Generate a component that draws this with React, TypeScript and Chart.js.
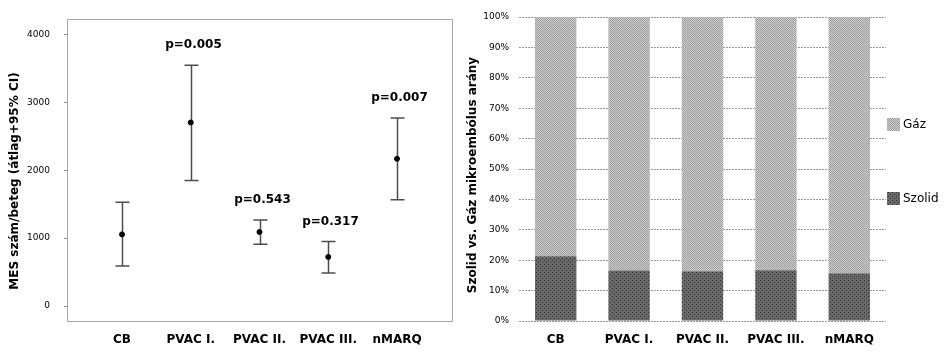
import React, { useEffect, useRef } from 'react';
import { Chart, registerables } from 'chart.js';
Chart.register(...registerables);

const categories = ['CB', 'PVAC I.', 'PVAC II.', 'PVAC III.', 'nMARQ'];
const mesMean = [1055, 2702, 1090, 723, 2168];
const mesLower = [588, 1850, 910, 487, 1566];
const mesUpper = [1527, 3546, 1267, 949, 2770];
const pLabels = ['', 'p=0.005', 'p=0.543', 'p=0.317', 'p=0.007'];
const mesTicks = [0, 1000, 2000, 3000, 4000];
const szolidPct = [21.3, 16.6, 16.4, 16.7, 15.7];
const gazPct = [78.7, 83.4, 83.6, 83.3, 84.3];
const pctTicks = [0, 10, 20, 30, 40, 50, 60, 70, 80, 90, 100];
const leftTitle = 'MES szám/beteg (átlag+95% CI)';
const rightTitle = 'Szolid vs. Gáz mikroembólus arány';

const FONT = '"DejaVu Sans", Verdana, sans-serif';

function makePattern(size: number, base: string, dot: string, dots: number[][]) {
  const c = document.createElement('canvas');
  c.width = size;
  c.height = size;
  const g = c.getContext('2d')!;
  g.fillStyle = base;
  g.fillRect(0, 0, size, size);
  g.fillStyle = dot;
  dots.forEach(([x, y]) => g.fillRect(x, y, 1, 1));
  return g.createPattern(c, 'repeat')!;
}

function vTitle(text: string, x: number, y: number) {
  return {
    id: 'vTitle',
    afterDraw(chart: any) {
      const ctx = chart.ctx;
      ctx.save();
      ctx.translate(x, y);
      ctx.rotate(-Math.PI / 2);
      ctx.font = `bold 12px ${FONT}`;
      ctx.fillStyle = '#000';
      ctx.textAlign = 'center';
      ctx.textBaseline = 'middle';
      ctx.fillText(text, 0, 0);
      ctx.restore();
    },
  };
}

export default function App() {
  const leftRef = useRef<HTMLCanvasElement>(null);
  const rightRef = useRef<HTMLCanvasElement>(null);

  useEffect(() => {
    const frame = {
      id: 'frame',
      beforeDatasetsDraw(chart: any) {
        const { ctx, chartArea: a } = chart;
        ctx.save();
        ctx.strokeStyle = '#a6a6a6';
        ctx.lineWidth = 1;
        ctx.strokeRect(Math.round(a.left) + 0.5, Math.round(a.top) + 0.5, Math.round(a.right - a.left), Math.round(a.bottom - a.top));
        ctx.restore();
      },
    };
    const errorBars = {
      id: 'errorBars',
      beforeDatasetsDraw(chart: any) {
        const { ctx, scales } = chart;
        const xs = scales.x;
        const ys = scales.y;
        ctx.save();
        ctx.strokeStyle = '#4d4d4d';
        ctx.lineWidth = 1.5;
        categories.forEach((_, i) => {
          const px = Math.round(xs.getPixelForValue(i)) + 0.5;
          const yu = ys.getPixelForValue(mesUpper[i]);
          const yl = ys.getPixelForValue(mesLower[i]);
          ctx.beginPath();
          ctx.moveTo(px, yu);
          ctx.lineTo(px, yl);
          ctx.moveTo(px - 7, yu);
          ctx.lineTo(px + 7, yu);
          ctx.moveTo(px - 7, yl);
          ctx.lineTo(px + 7, yl);
          ctx.stroke();
          if (pLabels[i]) {
            ctx.font = `bold 12px ${FONT}`;
            ctx.fillStyle = '#000';
            ctx.textAlign = 'center';
            ctx.textBaseline = 'middle';
            ctx.fillText(pLabels[i], px + 2, yu - 20);
          }
        });
        ctx.restore();
      },
    };

    const left = new Chart(leftRef.current!, {
      type: 'scatter',
      data: {
        datasets: [
          {
            label: 'MES',
            data: mesMean.map((m, i) => ({ x: i, y: m })),
            pointRadius: 2.5,
            pointHoverRadius: 2.5,
            backgroundColor: '#000',
            borderColor: '#000',
          },
        ],
      },
      options: {
        responsive: false,
        animation: false,
        layout: { padding: { top: 14, right: 8, left: 0, bottom: 0 } },
        plugins: { legend: { display: false }, tooltip: { enabled: false } },
        scales: {
          x: {
            type: 'linear',
            min: -0.8,
            max: 4.8,
            afterBuildTicks: (s: any) => {
              s.ticks = categories.map((_, i) => ({ value: i }));
            },
            afterFit: (s: any) => {
              s.height = 31;
            },
            ticks: {
              callback: (v: any) => categories[v as number],
              font: { family: FONT, size: 12, weight: 'bold' },
              color: '#000',
              padding: 4,
              maxRotation: 0,
              autoSkip: false,
            },
            grid: { display: false },
            border: { display: false },
          },
          y: {
            min: -220,
            max: 4220,
            afterBuildTicks: (s: any) => {
              s.ticks = mesTicks.map((v) => ({ value: v }));
            },
            afterFit: (s: any) => {
              s.width = 67;
            },
            ticks: {
              font: { family: FONT, size: 9 },
              color: '#000',
              padding: 14,
              callback: (v: any) => String(v),
            },
            grid: { drawOnChartArea: false, drawTicks: true, tickLength: 3, color: '#8c8c8c' },
            border: { display: false },
          },
        },
      },
      plugins: [frame, errorBars, vTitle(leftTitle, 15, 181)],
    });

    const gazPattern = makePattern(2, '#cfcfcf', '#9c9c9c', [[0, 0], [1, 1]]);
    const szolidPattern = makePattern(4, '#686868', '#333333', [[0, 0], [2, 2]]);

    const legendPlugin = {
      id: 'sideLegend',
      afterDraw(chart: any) {
        const ctx = chart.ctx;
        const items = [
          { ds: chart.data.datasets[1], y: 125 },
          { ds: chart.data.datasets[0], y: 199 },
        ];
        ctx.save();
        items.forEach(({ ds, y }) => {
          ctx.fillStyle = ds.backgroundColor;
          ctx.fillRect(427, y - 7, 13, 13);
          ctx.fillStyle = '#000';
          ctx.font = `12px ${FONT}`;
          ctx.textAlign = 'left';
          ctx.textBaseline = 'middle';
          ctx.fillText(ds.label, 443, y);
        });
        ctx.restore();
      },
    };

    const right = new Chart(rightRef.current!, {
      type: 'bar',
      data: {
        labels: categories,
        datasets: [
          { label: 'Szolid', data: szolidPct, backgroundColor: szolidPattern as any, borderWidth: 0 },
          { label: 'Gáz', data: gazPct, backgroundColor: gazPattern as any, borderWidth: 0 },
        ],
      },
      options: {
        responsive: false,
        animation: false,
        layout: { padding: { top: 17, right: 58, left: 0, bottom: 0 } },
        datasets: { bar: { barPercentage: 0.564, categoryPercentage: 1 } },
        plugins: { legend: { display: false }, tooltip: { enabled: false } },
        scales: {
          x: {
            stacked: true,
            afterFit: (s: any) => {
              s.height = 31;
            },
            ticks: {
              font: { family: FONT, size: 12, weight: 'bold' },
              color: '#000',
              padding: 4,
              maxRotation: 0,
              autoSkip: false,
            },
            grid: { display: false },
            border: { display: false },
          },
          y: {
            stacked: true,
            min: 0,
            max: 100,
            afterBuildTicks: (s: any) => {
              s.ticks = pctTicks.map((v) => ({ value: v }));
            },
            afterFit: (s: any) => {
              s.width = 59;
            },
            ticks: {
              font: { family: FONT, size: 9 },
              color: '#000',
              padding: 10,
              callback: (v: any) => `${v}%`,
            },
            grid: { drawTicks: false, color: '#9a9a9a' },
            border: { display: false, dash: [2, 1] },
          },
        },
      },
      plugins: [legendPlugin, vTitle(rightTitle, 13, 175)],
    });

    return () => {
      left.destroy();
      right.destroy();
    };
  }, []);

  return (
    <div style={{ position: 'fixed', left: 0, top: 0, width: 944, height: 352, background: '#fff' }}>
      <canvas ref={leftRef} width={460} height={352} style={{ position: 'absolute', left: 0, top: 0 }} />
      <canvas ref={rightRef} width={484} height={352} style={{ position: 'absolute', left: 460, top: 0 }} />
    </div>
  );
}
